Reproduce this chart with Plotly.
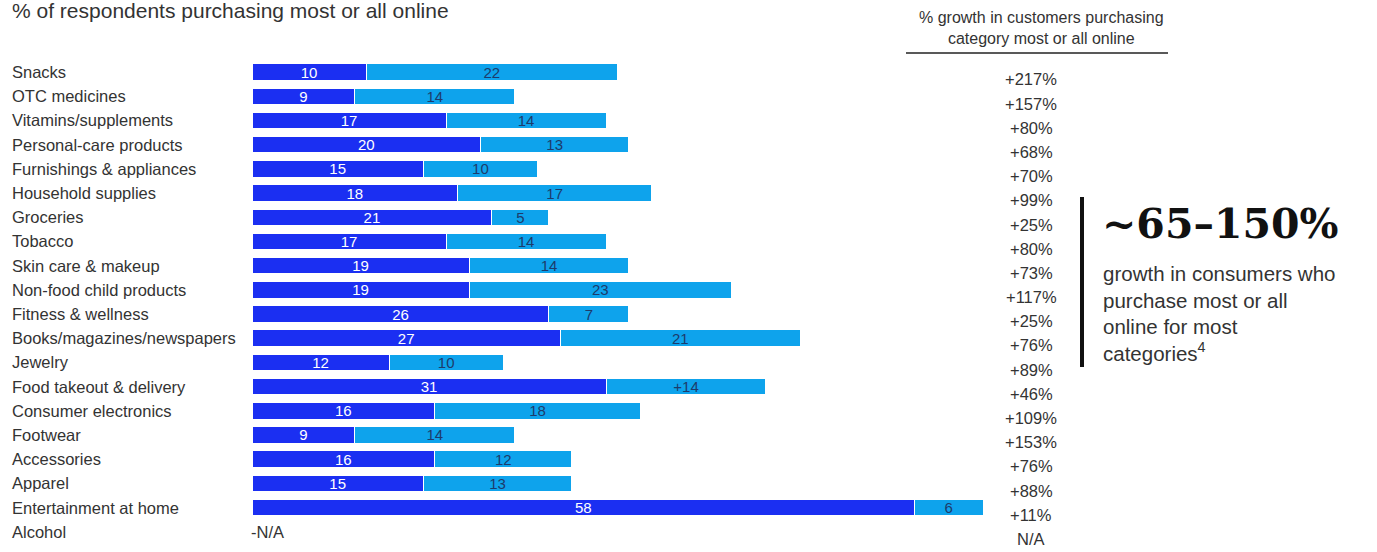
import plotly.graph_objects as go

# Share of respondents purchasing most or all online, by category
categories = [
    "Snacks", "OTC medicines", "Vitamins/supplements", "Personal-care products",
    "Furnishings & appliances", "Household supplies", "Groceries", "Tobacco",
    "Skin care & makeup", "Non-food child products", "Fitness & wellness",
    "Books/magazines/newspapers", "Jewelry", "Food takeout & delivery",
    "Consumer electronics", "Footwear", "Accessories", "Apparel",
    "Entertainment at home", "Alcohol",
]
base_share = [10, 9, 17, 20, 15, 18, 21, 17, 19, 19, 26, 27, 12, 31, 16, 9, 16, 15, 58, None]
added_share = [22, 14, 14, 13, 10, 17, 5, 14, 14, 23, 7, 21, 10, 14, 18, 14, 12, 13, 6, None]
added_labels = ["22", "14", "14", "13", "10", "17", "5", "14", "14", "23", "7", "21",
                "10", "+14", "18", "14", "12", "13", "6", ""]
growth_labels = ["+217%", "+157%", "+80%", "+68%", "+70%", "+99%", "+25%", "+80%",
                 "+73%", "+117%", "+25%", "+76%", "+89%", "+46%", "+109%", "+153%",
                 "+76%", "+88%", "+11%", "N/A"]

DARK = "#1b2ff2"
LIGHT = "#0ea3ec"
TEXT = "#333333"
FONT = "Liberation Sans, Arial, sans-serif"

W, H = 1377, 552
L, R, T, B = 252, W - 983, 60, 2
plot_w = W - L - R
plot_h = H - T - B


def px_to_paper_x(px):
    return (px - L) / plot_w


def px_to_paper_y(py):
    return 1 - (py - T) / plot_h


fig = go.Figure()
fig.add_trace(go.Bar(
    y=categories, x=base_share, orientation="h", width=0.68,
    marker=dict(color=DARK, line=dict(color="white", width=1)),
    text=[str(v) if v is not None else "" for v in base_share],
    textposition="inside", insidetextanchor="middle", textangle=0,
    textfont=dict(family=FONT, size=15, color="white"),
    hoverinfo="skip",
))
fig.add_trace(go.Bar(
    y=categories, x=added_share, orientation="h", width=0.68,
    marker=dict(color=LIGHT, line=dict(color="white", width=1)),
    text=added_labels,
    textposition="inside", insidetextanchor="middle", textangle=0,
    textfont=dict(family=FONT, size=15, color="#1d3b6b"),
    hoverinfo="skip",
))

annotations = []
for i, (cat, g) in enumerate(zip(categories, growth_labels)):
    annotations.append(dict(
        x=px_to_paper_x(10), xref="paper", y=cat, yref="y",
        text=cat, showarrow=False, xanchor="left", yanchor="middle",
        font=dict(family=FONT, size=16.5, color=TEXT),
    ))
    annotations.append(dict(
        x=px_to_paper_x(1031), xref="paper", y=i + 0.3, yref="y",
        text=g, showarrow=False, xanchor="center", yanchor="middle",
        font=dict(family=FONT, size=16.5, color=TEXT),
    ))

# Missing value marker for Alcohol
annotations.append(dict(
    x=px_to_paper_x(249), xref="paper", y="Alcohol", yref="y",
    text="-N/A", showarrow=False, xanchor="left", yanchor="middle",
    font=dict(family=FONT, size=16.5, color=TEXT),
))

# Headers
annotations.append(dict(
    x=px_to_paper_x(10), xref="paper", y=px_to_paper_y(10), yref="paper",
    text="% of respondents purchasing most or all online", showarrow=False,
    xanchor="left", yanchor="middle",
    font=dict(family=FONT, size=21, color=TEXT),
))
annotations.append(dict(
    x=px_to_paper_x(1041), xref="paper", y=px_to_paper_y(28), yref="paper",
    text="% growth in customers purchasing<br>category most or all online",
    showarrow=False, xanchor="center", yanchor="middle",
    font=dict(family=FONT, size=16, color=TEXT),
))

# Callout
annotations.append(dict(
    x=px_to_paper_x(1100), xref="paper", y=px_to_paper_y(224), yref="paper",
    text="<b>~65–150%</b>", showarrow=False, xanchor="left", yanchor="middle",
    font=dict(family="DejaVu Serif, Liberation Serif, serif", size=41, color="#111111"),
))
annotations.append(dict(
    x=px_to_paper_x(1101), xref="paper", y=px_to_paper_y(313), yref="paper",
    text="growth in consumers who<br>purchase most or all<br>online for most<br>categories<sup>4</sup>",
    showarrow=False, xanchor="left", yanchor="middle", align="left",
    font=dict(family=FONT, size=20.5, color=TEXT),
))

shapes = [
    dict(type="line", xref="paper", yref="paper",
         x0=px_to_paper_x(906), x1=px_to_paper_x(1168),
         y0=px_to_paper_y(53), y1=px_to_paper_y(53),
         line=dict(color="#222222", width=1.5)),
    dict(type="rect", xref="paper", yref="paper",
         x0=px_to_paper_x(1080), x1=px_to_paper_x(1084),
         y0=px_to_paper_y(197), y1=px_to_paper_y(367),
         fillcolor="#111111", line=dict(width=0)),
]

fig.update_layout(
    width=W, height=H, barmode="stack", showlegend=False,
    margin=dict(l=L, r=R, t=T, b=B),
    paper_bgcolor="white", plot_bgcolor="white",
    xaxis=dict(range=[0, 64], visible=False, fixedrange=True),
    yaxis=dict(type="category", autorange="reversed", visible=False, fixedrange=True),
    annotations=annotations, shapes=shapes,
    uniformtext=dict(minsize=12, mode="show"),
)

fig.write_html("out.html", config={"displayModeBar": False})
